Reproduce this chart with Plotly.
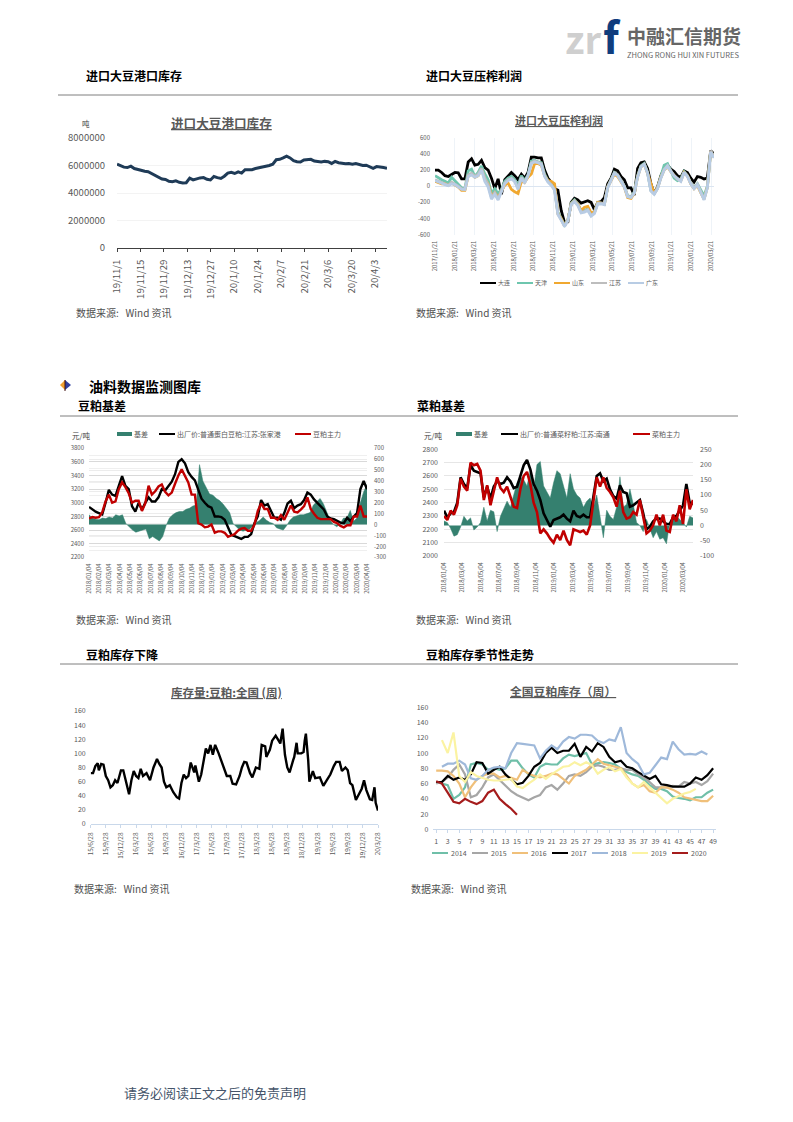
import plotly.graph_objects as go

PAGE_W, PAGE_H = 793, 1122
OFF = 8  # default page margin of the html body
W, H = PAGE_W - OFF, PAGE_H - OFF
FONT = "Noto Sans CJK SC"

# ---------- chart 1: port inventory ----------
port_ticks = ["19/11/1","19/11/15","19/11/29","19/12/13","19/12/27","20/1/10","20/1/24","20/2/7","20/2/21","20/3/6","20/3/20","20/4/3"]
port_stock = [6100000,5980000,5880000,5850000,5950000,5780000,5700000,5650000,5580000,5550000,5420000,5280000,5100000,5020000,4980000,4850000,4820000,4880000,4780000,4730000,4750000,5080000,4950000,5030000,5100000,5120000,5000000,4950000,5200000,5120000,5060000,5220000,5450000,5500000,5420000,5540000,5450000,5700000,5720000,5700000,5780000,5820000,5900000,5950000,6000000,6100000,6420000,6450000,6550000,6680000,6550000,6350000,6280000,6250000,6400000,6450000,6450000,6320000,6280000,6250000,6300000,6280000,6150000,6300000,6200000,6150000,6120000,6150000,6100000,6150000,6050000,6000000,6020000,5900000,5800000,5920000,5900000,5850000,5800000]

# ---------- chart 2: crush margin ----------
margin_ticks = ["2017/11/21","2018/01/21","2018/03/21","2018/05/21","2018/07/21","2018/09/21","2018/11/21","2019/01/21","2019/03/21","2019/05/21","2019/07/21","2019/09/21","2019/11/21","2020/01/21","2020/03/21"]
margin_dalian = [200,200,170,130,120,140,170,165,90,90,300,340,260,270,320,230,200,100,-30,90,-100,80,130,170,130,80,150,100,170,360,360,350,350,200,100,50,-30,-50,-300,-450,-440,-200,-150,-170,-210,-190,-180,-200,-290,-200,-190,-140,30,100,210,190,120,80,-20,-20,-110,220,290,300,220,30,-90,-10,130,220,260,210,180,130,110,190,170,100,50,120,110,90,100,440,400]
margin_tianjin = [130,100,80,60,40,110,70,30,-20,-30,190,210,120,170,250,150,80,-90,-30,-90,-40,60,100,120,80,10,130,70,140,310,320,300,290,150,70,30,-30,-320,-400,-480,-420,-210,-170,-220,-310,-300,-280,-340,-320,-200,-210,-220,-10,80,170,140,70,0,-120,-130,-70,130,250,280,170,-50,-90,-20,120,260,280,190,100,70,90,180,130,40,-20,30,-40,-120,0,430,370]
margin_shandong = [60,40,30,30,10,40,20,-10,-50,-50,130,150,110,130,210,90,30,-120,-80,-140,-60,10,40,-40,-70,-90,60,50,110,150,280,280,260,130,70,60,30,-340,-400,-490,-420,-220,-180,-220,-300,-260,-250,-330,-320,-200,-210,-220,-10,70,150,120,60,-10,-140,-150,-90,120,240,270,160,30,-90,-20,110,200,240,180,130,90,70,170,130,30,-30,10,-80,-160,-10,430,360]
margin_jiangsu = [80,60,50,30,10,50,30,0,-30,-40,140,160,120,150,220,100,20,-140,-80,-160,-50,40,80,100,60,-20,110,50,130,290,310,290,280,130,60,20,-40,-340,-410,-490,-420,-220,-180,-230,-320,-310,-290,-360,-330,-210,-210,-220,-10,80,165,140,70,0,-125,-135,-80,120,245,275,165,-55,-95,-25,105,210,255,185,125,85,65,175,125,35,-25,25,-60,-160,-15,440,360]
margin_guangdong = [70,50,40,20,5,30,20,-10,-40,-40,120,140,110,130,200,60,-10,-160,-100,-170,-60,30,70,90,60,-40,100,40,130,280,300,290,270,120,50,10,-50,-350,-420,-500,-430,-230,-190,-240,-330,-320,-300,-370,-340,-220,-220,-230,-20,70,160,130,60,-10,-130,-140,-90,110,240,270,160,-60,-100,-30,100,200,250,180,130,90,60,170,120,30,-30,20,-70,-170,-20,420,350]

# ---------- chart 3: soybean meal basis ----------
sbm_ticks = ["2018/01/04","2018/02/04","2018/03/04","2018/04/04","2018/05/04","2018/06/04","2018/07/04","2018/08/04","2018/09/04","2018/10/04","2018/11/04","2018/12/04","2019/01/04","2019/02/04","2019/03/04","2019/04/04","2019/05/04","2019/06/04","2019/07/04","2019/08/04","2019/09/04","2019/10/04","2019/11/04","2019/12/04","2020/01/04","2020/02/04","2020/03/04","2020/04/04"]
sbm_basis = [90,60,50,45,60,55,70,60,90,80,90,10,-20,-50,-70,-60,-50,-40,-130,-110,-130,-150,-110,-10,60,90,110,120,120,140,150,170,180,550,400,340,280,270,240,220,190,150,110,10,-20,-50,-60,-50,-40,-10,20,40,70,40,20,10,-30,-40,-50,-10,40,70,80,90,90,100,110,180,210,240,190,110,40,0,-20,10,60,60,130,30,60,200,300,370]
sbm_spot = [2940,2900,2870,2850,2830,3000,3190,3120,3100,3250,3390,3250,3200,2950,2870,3000,2900,3000,3080,3020,3020,3080,3200,3180,3250,3310,3420,3600,3640,3580,3450,3380,3330,3200,3060,3000,2950,2930,2800,2800,2790,2750,2640,2530,2510,2490,2470,2500,2500,2540,2700,2800,3040,2960,2980,2880,2780,2780,2750,2850,2990,3030,2920,2960,2980,3040,3150,3120,3050,3000,2950,2900,2800,2770,2760,2730,2710,2700,2780,2730,2800,2850,3200,3320,3200]
sbm_future = [2770,2790,2780,2790,2860,3020,3120,3000,3020,3200,3300,3230,3140,3000,3030,3030,2880,2990,3250,3120,3170,3240,3270,3160,3110,3150,3280,3400,3490,3400,3300,3120,3120,2700,2680,2640,2650,2680,2560,2580,2580,2560,2500,2520,2540,2590,2620,2630,2590,2590,2680,2880,2990,2910,2910,2780,2780,2750,2820,2750,2850,2960,2870,2860,2900,2950,3080,2910,2840,2780,2760,2760,2770,2760,2720,2700,2660,2640,2670,2670,2800,2800,2960,2800,2800]

# ---------- chart 4: rapeseed meal basis ----------
rm_ticks = ["2018/01/04","2018/03/04","2018/05/04","2018/07/04","2018/09/04","2018/11/04","2019/01/04","2019/03/04","2019/05/04","2019/07/04","2019/09/04","2019/11/04","2020/01/04","2020/03/04"]
rm_basis = [15,10,-10,-35,-30,-5,30,15,25,-15,-5,10,60,15,50,45,-20,30,55,80,60,100,140,160,150,130,180,120,200,210,130,110,90,140,180,170,130,90,170,120,100,90,60,80,90,60,100,30,-40,50,30,20,60,160,60,70,120,70,10,0,-20,20,-10,-40,-20,-45,-40,-60,10,30,30,20,10,-5,30,25]
rm_spot = [2340,2290,2320,2330,2400,2590,2540,2510,2680,2640,2630,2620,2440,2520,2430,2520,2560,2540,2550,2590,2560,2510,2520,2600,2680,2720,2650,2540,2490,2420,2320,2270,2220,2270,2280,2290,2310,2280,2260,2340,2300,2290,2310,2290,2290,2450,2600,2620,2560,2580,2500,2450,2430,2530,2480,2470,2370,2380,2400,2420,2320,2200,2220,2260,2280,2280,2260,2240,2240,2290,2300,2340,2380,2540,2400,2390]
rm_future = [2300,2270,2340,2310,2380,2580,2520,2490,2700,2680,2690,2640,2420,2530,2380,2480,2590,2510,2480,2520,2450,2370,2360,2500,2600,2630,2540,2400,2330,2170,2200,2170,2130,2100,2160,2120,2190,2120,2080,2200,2190,2180,2190,2160,2230,2420,2590,2520,2590,2510,2480,2440,2370,2490,2330,2280,2290,2330,2310,2420,2290,2170,2190,2230,2310,2230,2310,2190,2180,2310,2260,2380,2240,2500,2350,2420]

# ---------- chart 5: soybean meal stock, weekly ----------
stock_ticks = ["15/6/28","15/9/28","15/12/28","16/3/28","16/6/28","16/9/28","16/12/28","17/3/28","17/6/28","17/9/28","17/12/28","18/3/28","18/6/28","18/9/28","18/12/28","19/3/28","19/6/28","19/9/28","19/12/28","20/3/28"]
stock_weeks = [0,2,4,6,7,9,11,13,15,17,19,21,23,26,28,30,33,35,37,39,41,43,45,48,51,54,57,59,61,63,65,68,71,74,76,78,80,82,84,86,89,90,93,95,97,99,101,103,105,107,110,112,115,117,120,122,125,128,130,132,134,137,139,142,145,147,150,151,154,156,159,161,163,165,167,169,171,174,175,177,178,181,183,184,185,187,188,191,193,197,200,203,206,209,211,214,216,219,221,223,225,228,230,233,235,237,240,242,244,245,247]
stock_values = [72,72,82,86,76,85,84,68,62,52,55,62,58,76,76,62,42,62,75,68,65,78,68,72,62,80,92,85,80,60,52,55,45,38,36,58,70,65,68,87,73,83,60,70,90,107,100,112,98,112,100,90,75,68,68,57,56,68,80,88,87,72,66,80,78,112,110,95,105,118,125,120,114,135,98,80,73,90,95,115,100,100,102,118,128,90,60,75,65,66,54,62,70,82,88,88,75,80,76,58,55,34,40,50,62,48,35,34,52,30,19]

# ---------- chart 6: seasonal stock ----------
week_labels = [1,3,5,7,9,11,13,15,17,19,21,23,25,27,29,31,33,35,37,39,41,43,45,47,49]
s2014 = [62,60,58,40,45,55,85,87,85,78,80,78,80,90,90,80,72,68,82,86,85,85,93,98,96,98,100,85,86,88,87,85,80,75,72,70,65,58,53,53,50,43,41,40,38,42,42,48,52]
s2015 = [60,62,68,78,85,72,42,45,55,68,72,65,58,50,45,42,38,42,45,55,58,52,60,70,72,70,75,82,84,82,78,78,80,78,78,72,68,62,55,55,55,57,56,62,60,62,58,63,73]
s2016 = [77,77,76,70,60,42,55,65,70,73,73,68,70,68,65,78,73,70,68,70,73,72,66,60,70,74,78,85,92,86,84,83,80,70,60,55,58,50,48,55,55,52,48,42,40,38,37,37,44]
s2017 = [62,62,70,65,68,65,72,88,87,73,78,82,72,66,59,61,70,82,87,100,107,100,103,103,112,95,108,102,113,108,95,88,90,82,80,75,70,66,70,59,58,56,56,56,60,68,65,71,80]
s2018 = [82,86,86,90,85,67,65,70,78,81,82,80,100,113,112,111,110,93,103,110,105,115,121,119,124,124,123,116,113,118,116,134,100,92,86,72,74,84,94,92,115,105,98,99,98,102,98]
s2019 = [117,100,127,70,62,75,70,67,65,64,64,65,66,56,54,60,65,72,66,72,77,82,83,88,84,88,84,73,78,82,76,79,68,60,55,62,55,48,40,34,40,44,47,49,53]
s2020 = [63,60,48,36,34,40,36,33,37,48,52,40,33,27,19]
season_series = [("2014",s2014,1,"#6fbfa8"),("2015",s2015,1,"#a6a6a6"),("2016",s2016,1,"#f0c07a"),("2017",s2017,1,"#000000"),("2018",s2018,2,"#9fb9da"),("2019",s2019,2,"#fbf3a2"),("2020",s2020,1,"#a51c1c")]

TICK = "#595959"


def PX(x):
    return (x - OFF) / W


def PY(y):
    return 1 - (y - OFF) / H


def dx(a, b):
    return [PX(a), PX(b)]


def dy(top, bot):
    return [PY(bot), PY(top)]


def scale(values, span):
    n = len(values)
    return [i * span / (n - 1) for i in range(n)]


fig = go.Figure()
anns, shapes = [], []


def text(s, x, y, size, color="#404040", bold=False, anchor="left"):
    anns.append(dict(text=f"<b>{s}</b>" if bold else s, x=PX(x), y=PY(y), xref="paper", yref="paper",
                     xanchor=anchor, yanchor="middle", showarrow=False, borderpad=0,
                     font=dict(family=FONT, size=size, color=color)))


def hline(x0, x1, y, color, width):
    shapes.append(dict(type="line", xref="paper", yref="paper", x0=PX(x0), x1=PX(x1), y0=PY(y), y1=PY(y),
                       line=dict(color=color, width=width)))


def rect(x0, x1, y0, y1, color):
    shapes.append(dict(type="rect", xref="paper", yref="paper", x0=PX(x0), x1=PX(x1), y0=PY(y0), y1=PY(y1),
                       fillcolor=color, line=dict(width=0)))


def line(x, y, color, width, xa, ya, name):
    fig.add_trace(go.Scatter(x=x, y=y, mode="lines", name=name, xaxis=xa, yaxis=ya, showlegend=False,
                             line=dict(color=color, width=width, shape="linear"), hoverinfo="skip"))


def yax(domain, rng, step, size, grid="#ededed", standoff=4, **kw):
    vals = []
    v = rng[0]
    while v <= rng[1] + 1e-9:
        vals.append(v)
        v += step
    d = dict(domain=domain, range=rng, tickmode="array", tickvals=vals, ticktext=[str(int(t)) for t in vals],
             tickfont=dict(family=FONT, size=size, color=TICK), showgrid=bool(grid), gridcolor=grid or "#fff",
             gridwidth=1, zeroline=False, showline=False, ticks="", fixedrange=True, ticklabelstandoff=standoff,
             automargin=False)
    d.update(kw)
    return d


def xax(domain, rng, vals, labels, size, standoff=2, **kw):
    d = dict(domain=domain, range=rng, tickmode="array", tickvals=vals, ticktext=labels, tickangle=-90,
             tickfont=dict(family=FONT, size=size, color=TICK), showgrid=False, zeroline=False,
             showline=True, linecolor="#595959", linewidth=1, ticks="outside", ticklen=3, tickcolor="#595959",
             tickwidth=1, fixedrange=True, ticklabelstandoff=standoff, automargin=False)
    d.update(kw)
    return d


layout = {}

# chart 1
line(scale(port_stock, 161), port_stock, "#1f3b57", 3, "x", "y", "进口大豆港口库存")
layout["xaxis"] = xax(dx(117, 387), [0, 161], [14 * i for i in range(12)], port_ticks, 9.5, standoff=4, anchor="y",
                      linecolor="#404040", tickcolor="#404040")
layout["yaxis"] = yax(dy(138, 248), [0, 8000000], 2000000, 9.5, grid="#f3f3f3", standoff=11, anchor="x")

# chart 2
for nm, vals, col in [("大连", margin_dalian, "#000000"), ("天津", margin_tianjin, "#6ec6ae"),
                      ("山东", margin_shandong, "#f0a830"), ("江苏", margin_jiangsu, "#bdbdbd"),
                      ("广东", margin_guangdong, "#b8cce4")]:
    line(scale(vals, 28.3), vals, col, 2.8, "x2", "y2", nm)
layout["xaxis2"] = xax(dx(435, 714), [0, 28.3], [2 * i for i in range(15)], margin_ticks, 5.8, anchor="y2",
                       showline=False, ticks="", showgrid=True, gridcolor="#eef3f8", standoff=4)
layout["yaxis2"] = yax(dy(137.7, 234.7), [-600, 600], 200, 6, grid=None, anchor="x2", zeroline=True,
                       zerolinecolor="#dbe5f1", zerolinewidth=1)

# chart 3: basis is the base plot (right axis), prices overlay it (left axis)
fig.add_trace(go.Scatter(x=scale(sbm_basis, 27), y=sbm_basis, mode="lines", fill="tozeroy", name="基差", xaxis="x3",
                         yaxis="y3", fillcolor="#35806f", line=dict(color="#35806f", width=0.5), showlegend=False,
                         hoverinfo="skip"))
line(scale(sbm_spot, 27), sbm_spot, "#000000", 2.4, "x3", "y7", "出厂价:普通蛋白豆粕:江苏:张家港")
line(scale(sbm_future, 27), sbm_future, "#c00000", 2.4, "x3", "y7", "豆粕主力")
layout["xaxis3"] = xax(dx(89, 367), [0, 27], list(range(28)), sbm_ticks, 5.8, anchor="y3", showline=False, ticks="",
                       standoff=4)
layout["yaxis3"] = yax(dy(448.3, 557.3), [-300, 700], 100, 6, grid="#ececec", anchor="x3", side="right", standoff=6)
layout["yaxis7"] = yax(dy(448.3, 557.3), [2200, 3800], 200, 6, grid="#d9d9d9", anchor="x3", side="left",
                       overlaying="y3",
                       minor=dict(tickmode="array", tickvals=[2300 + 200 * i for i in range(8)], showgrid=True,
                                  gridcolor="#efefef", gridwidth=1, ticks=""))

# chart 4
fig.add_trace(go.Scatter(x=scale(rm_basis, 27.08), y=rm_basis, mode="lines", fill="tozeroy", name="基差", xaxis="x4",
                         yaxis="y4", fillcolor="#35806f", line=dict(color="#35806f", width=0.5), showlegend=False,
                         hoverinfo="skip"))
line(scale(rm_spot, 27.08), rm_spot, "#000000", 2.6, "x4", "y8", "出厂价:普通菜籽粕:江苏:南通")
line(scale(rm_future, 27.08), rm_future, "#c00000", 2.6, "x4", "y8", "菜粕主力")
layout["xaxis4"] = xax(dx(444, 693), [0, 27.08], [2 * i for i in range(14)], rm_ticks, 5.8, anchor="y4",
                       showline=False, ticks="", standoff=4)
layout["yaxis4"] = yax(dy(449.3, 556), [-100, 250], 50, 7, grid=None, anchor="x4", side="right", standoff=6)
layout["yaxis8"] = yax(dy(449.3, 556), [2000, 2800], 100, 7, grid="#e6e6e6", anchor="x4", side="left",
                       overlaying="y4", standoff=5)

# chart 5
line(stock_weeks, stock_values, "#000000", 2.4, "x5", "y5", "库存量:豆粕:全国 (周)")
layout["xaxis5"] = xax(dx(90.7, 378), [0, 247], [13 * i for i in range(20)], stock_ticks, 6.4, anchor="y5",
                       linecolor="#c9d8ea", tickcolor="#c9d8ea")
layout["yaxis5"] = yax(dy(711, 824), [0, 160], 20, 7, grid=None, anchor="x5")

# chart 6
for nm, vals, start, col in season_series:
    line(list(range(start, start + len(vals))), vals, col, 2.2, "x6", "y6", nm)
layout["xaxis6"] = xax(dx(433.3, 716), [0.5, 49.5], week_labels, [str(w) for w in week_labels], 7, anchor="y6",
                       tickangle=0, linecolor="#c9d8ea", tickcolor="#c9d8ea")
layout["yaxis6"] = yax(dy(707.3, 829.3), [0, 160], 20, 7, grid=None, anchor="x6")

# ---------- section headers ----------
for s, x, y, sz in [("进口大豆港口库存", 85, 75, 12), ("进口大豆压榨利润", 425, 75, 12), ("油料数据监测图库", 88, 386, 14),
                    ("豆粕基差", 77, 405, 12), ("菜粕基差", 416, 405, 12), ("豆粕库存下降", 85, 654, 12),
                    ("豆粕库存季节性走势", 425, 654, 12)]:
    text(s, x, y, sz, "#000000", True)
hline(58, 738, 95, "#7f7f7f", 1)
hline(60, 738, 416, "#7f7f7f", 1)
hline(60, 738, 664, "#7f7f7f", 1)

# ---------- chart titles ----------
for s, x, y, sz in [("进口大豆港口库存", 221, 122, 12.6), ("进口大豆压榨利润", 559, 120, 11), ("库存量:豆粕:全国 (周)", 226, 692, 11.5),
                    ("全国豆粕库存（周）", 563, 690, 11.8)]:
    text(f"<u>{s}</u>", x, y, sz, "#595959", True, "center")

# ---------- sources ----------
for x, y in [(75, 313), (415, 313), (75, 619), (415, 619), (73, 888), (410, 888)]:
    text("数据来源:&nbsp;&nbsp;&nbsp;Wind 资讯", x, y, 10, "#505050")

# ---------- units ----------
text("吨", 81, 124, 7.5)
text("元/吨", 71, 435, 7.5)
text("元/吨", 423, 435, 7.5)

# ---------- legends ----------
for nm, x0, col in [("大连", 480, "#000000"), ("天津", 517, "#6ec6ae"), ("山东", 554, "#f0a830"), ("江苏", 591, "#bdbdbd"),
                    ("广东", 628, "#b8cce4")]:
    hline(x0, x0 + 16, 283, col, 2)
    text(nm, x0 + 17, 283, 6, TICK)
rect(117, 132, 432, 436, "#35806f")
text("基差", 133, 434, 7, TICK)
hline(159, 175, 434, "#000000", 2)
text("出厂价:普通蛋白豆粕:江苏:张家港", 176, 434, 7, TICK)
hline(295, 311, 434, "#c00000", 2)
text("豆粕主力", 312, 434, 7, TICK)
rect(456, 472, 432, 436, "#35806f")
text("基差", 473, 434, 7, TICK)
hline(501, 518, 434, "#000000", 2)
text("出厂价:普通菜籽粕:江苏:南通", 519, 434, 7, TICK)
hline(633, 650, 434, "#c00000", 2)
text("菜粕主力", 651, 434, 7, TICK)
for (nm, vals, start, col), x0 in zip(season_series, [432, 472, 512, 552, 592, 632, 672]):
    hline(x0, x0 + 16, 853, col, 2)
    text(nm, x0 + 18, 853, 7, TICK)

# ---------- logo ----------
text("zr", 564, 38, 38, "#cfcfcf", True)
text("f", 602, 35, 43, "#0f3d7e", True)
text("中融汇信期货", 626, 35, 19, "#666666", True)
text("ZHONG RONG HUI XIN FUTURES", 626, 55, 7.5, "#666666")

# ---------- section icon ----------
shapes.append(dict(type="path", xref="paper", yref="paper", line=dict(width=0), fillcolor="#f0a030",
                   path=f"M {PX(60)} {PY(385)} L {PX(65)} {PY(380)} L {PX(65)} {PY(390)} Z"))
shapes.append(dict(type="path", xref="paper", yref="paper", line=dict(width=0), fillcolor="#3040a0",
                   path=f"M {PX(71)} {PY(385)} L {PX(65)} {PY(380)} L {PX(65)} {PY(390)} Z"))
shapes.append(dict(type="line", xref="paper", yref="paper", x0=PX(65), x1=PX(65), y0=PY(380), y1=PY(391),
                   line=dict(color="#401010", width=1)))

# ---------- footer ----------
text("请务必阅读正文之后的免责声明", 123, 1092, 13, "#44546a")

fig.update_layout(width=W, height=H, margin=dict(l=0, r=0, t=0, b=0, autoexpand=False), paper_bgcolor="white",
                  plot_bgcolor="rgba(0,0,0,0)", showlegend=False, annotations=anns, shapes=shapes,
                  font=dict(family=FONT), **layout)

fig.write_html("out.html", config={"displayModeBar": False})
